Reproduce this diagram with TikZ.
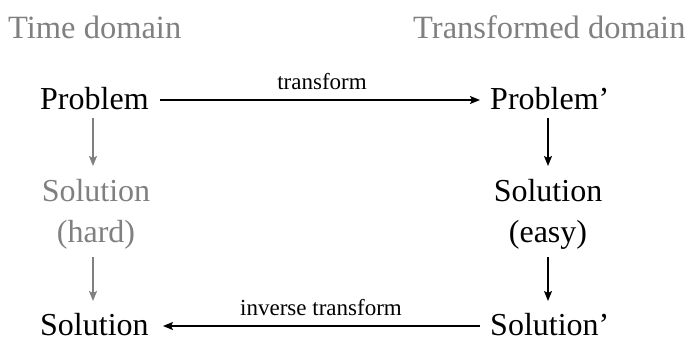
\documentclass[tikz,border=0pt]{standalone}
\usepackage{fontspec}
\setmainfont{Liberation Serif}
\usetikzlibrary{arrows.meta}
\definecolor{softgray}{HTML}{808080}
\begin{document}
\begin{tikzpicture}[x=1pt,y=-1pt,
  term/.style={inner sep=0pt, font=\fontsize{32}{41}\selectfont, align=center},
  head/.style={inner sep=0pt, anchor=base west, text=softgray, font=\fontsize{32.5}{36}\selectfont},
  lbl/.style={font=\fontsize{23}{26}\selectfont, inner sep=0pt, anchor=base},
  arr/.style={line width=1.4pt, -{Stealth[length=10pt,width=8pt,inset=2pt]}},
  garr/.style={arr, draw=softgray}]
\useasboundingbox (0,0) rectangle (687,341);
% column headings
\node[head] (th) at (8,38) {Time domain};
\node[head] (tt) at (413,38) {Transformed domain};
% time-domain column
\node[term, anchor=base west] (p) at (40,109) {Problem};
\node[term, text=softgray] (sh) at (96,214) {Solution\\(hard)};
\node[term, anchor=base west] (s) at (40,335) {Solution};
% transformed-domain column
\node[term, anchor=base west] (pp) at (490,109) {Problem’};
\node[term] (se) at (548,214) {Solution\\(easy)};
\node[term, anchor=base west] (sp) at (490,335) {Solution’};
% arrow end points
\coordinate (pa) at (160,100);
\coordinate (pb) at (480,100);
\coordinate (sa) at (480,326);
\coordinate (sb) at (163,326);
\coordinate (g1) at (93,118);  \coordinate (g2) at (93,166);
\coordinate (g3) at (93,257);  \coordinate (g4) at (93,301);
\coordinate (r1) at (548,118); \coordinate (r2) at (548,166);
\coordinate (r3) at (548,257); \coordinate (r4) at (548,301);
% horizontal transforms
\draw[arr] (pa) -- (pb);
\node[lbl] (lt) at (322,89) {transform};
\draw[arr] (sa) -- (sb);
\node[lbl] (li) at (321,315) {inverse transform};
% vertical steps
\draw[garr] (g1) -- (g2);
\draw[garr] (g3) -- (g4);
\draw[arr] (r1) -- (r2);
\draw[arr] (r3) -- (r4);
\end{tikzpicture}
\end{document}
